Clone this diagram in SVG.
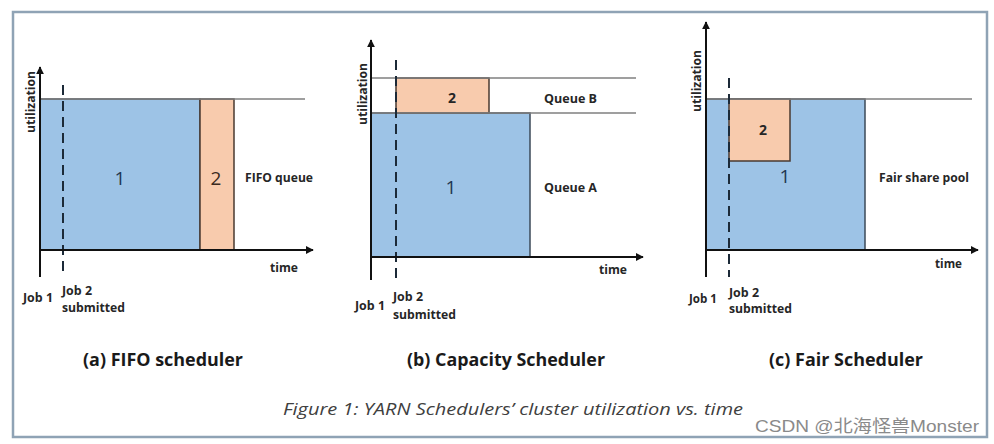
<svg xmlns="http://www.w3.org/2000/svg" width="994" height="444" viewBox="0 0 994 444">
<defs>
<marker id="arr" viewBox="0 0 10 10" refX="9" refY="5" markerWidth="4" markerHeight="4" orient="auto" markerUnits="strokeWidth">
<path d="M0,0 L10,5 L0,10 z" fill="#111"/>
</marker>
</defs>
<style>
.axis{stroke:#111;stroke-width:2;fill:none}
.lim{stroke:#7f7f7f;stroke-width:1.5;fill:none}
.dash{stroke:#1c2a38;stroke-width:2;stroke-dasharray:10 6;fill:none}
.blue{fill:#9dc3e6;stroke:#3d4a58;stroke-width:1.5}
.org{fill:#f8cbad;stroke:#4a3a30;stroke-width:1.5}
.lbl{font-family:"Open Sans","Liberation Sans",sans-serif;font-weight:bold;font-size:12px;fill:#262626}
.big{font-family:"Open Sans","Liberation Sans",sans-serif;font-size:19px;fill:#1f3550}
.cap{font-family:"Open Sans","Liberation Sans",sans-serif;font-weight:bold;font-size:18px;fill:#1a1a1a}
</style>
<rect x="13" y="12" width="974" height="425" fill="#fff" stroke="#8fa3b5" stroke-width="2.5"/>

<g id="panel-a">
<rect class="blue" x="40" y="99" width="160" height="151"/>
<rect class="org" x="200" y="99" width="34" height="151"/>
<line class="lim" x1="40" y1="99" x2="305" y2="99"/>
<line class="dash" x1="63" y1="85" x2="63" y2="277"/>
<text class="big" x="120" y="185" text-anchor="middle">1</text>
<text class="big" x="216" y="185" text-anchor="middle" fill="#3b2a20" style="fill:#3b2a20">2</text>
<text class="lbl" x="245" y="182" textLength="68" lengthAdjust="spacingAndGlyphs">FIFO queue</text>
<text class="lbl" x="270" y="272" textLength="28" lengthAdjust="spacingAndGlyphs">time</text>
<text class="lbl" x="23" y="302" textLength="30" lengthAdjust="spacingAndGlyphs">Job 1</text>
<text class="lbl" x="62" y="295" textLength="30" lengthAdjust="spacingAndGlyphs">Job 2</text>
<text class="lbl" x="62" y="312" textLength="63" lengthAdjust="spacingAndGlyphs">submitted</text>
<text class="lbl" transform="translate(35,102) rotate(-90)" text-anchor="middle" textLength="62" lengthAdjust="spacingAndGlyphs">utilization</text>
<line class="axis" x1="40" y1="277" x2="40" y2="67" marker-end="url(#arr)"/>
<line class="axis" x1="40" y1="250" x2="313" y2="250" marker-end="url(#arr)"/>
</g>

<g id="panel-b">
<rect class="blue" x="371" y="113" width="159" height="144"/>
<rect class="org" x="396" y="78" width="93" height="35"/>
<line class="lim" x1="371" y1="78" x2="636" y2="78"/>
<line class="lim" x1="371" y1="113" x2="636" y2="113"/>
<line class="dash" x1="396" y1="60" x2="396" y2="280"/>
<text class="big" x="451" y="194" text-anchor="middle">1</text>
<text class="lbl" x="452" y="103" text-anchor="middle" style="font-size:14px">2</text>
<text class="lbl" x="544" y="103" textLength="53" lengthAdjust="spacingAndGlyphs">Queue B</text>
<text class="lbl" x="544" y="192" textLength="53" lengthAdjust="spacingAndGlyphs">Queue A</text>
<text class="lbl" x="599" y="274" textLength="28" lengthAdjust="spacingAndGlyphs">time</text>
<text class="lbl" x="355" y="310" textLength="30" lengthAdjust="spacingAndGlyphs">Job 1</text>
<text class="lbl" x="393" y="301" textLength="30" lengthAdjust="spacingAndGlyphs">Job 2</text>
<text class="lbl" x="393" y="319" textLength="63" lengthAdjust="spacingAndGlyphs">submitted</text>
<text class="lbl" transform="translate(367,94) rotate(-90)" text-anchor="middle" textLength="62" lengthAdjust="spacingAndGlyphs">utilization</text>
<line class="axis" x1="371" y1="280" x2="371" y2="40" marker-end="url(#arr)"/>
<line class="axis" x1="371" y1="257" x2="643" y2="257" marker-end="url(#arr)"/>
</g>

<g id="panel-c">
<rect class="blue" x="706" y="99" width="159" height="151"/>
<rect class="org" x="729" y="99" width="61" height="62"/>
<line class="lim" x1="706" y1="99" x2="972" y2="99"/>
<line class="dash" x1="729" y1="78" x2="729" y2="277"/>
<text class="big" x="785" y="183" text-anchor="middle">1</text>
<text class="lbl" x="763" y="135" text-anchor="middle" style="font-size:14px">2</text>
<text class="lbl" x="879" y="182" textLength="90" lengthAdjust="spacingAndGlyphs">Fair share pool</text>
<text class="lbl" x="935" y="268" textLength="27" lengthAdjust="spacingAndGlyphs">time</text>
<text class="lbl" x="689" y="303" textLength="28" lengthAdjust="spacingAndGlyphs">Job 1</text>
<text class="lbl" x="729" y="297" textLength="30" lengthAdjust="spacingAndGlyphs">Job 2</text>
<text class="lbl" x="729" y="313" textLength="63" lengthAdjust="spacingAndGlyphs">submitted</text>
<text class="lbl" transform="translate(701,81) rotate(-90)" text-anchor="middle" textLength="62" lengthAdjust="spacingAndGlyphs">utilization</text>
<line class="axis" x1="706" y1="277" x2="706" y2="22" marker-end="url(#arr)"/>
<line class="axis" x1="706" y1="250" x2="978" y2="250" marker-end="url(#arr)"/>
</g>

<g id="captions">
<text class="cap" x="83" y="366" textLength="160" lengthAdjust="spacingAndGlyphs">(a) FIFO scheduler</text>
<text class="cap" x="407" y="366" textLength="198" lengthAdjust="spacingAndGlyphs">(b) Capacity Scheduler</text>
<text class="cap" x="769" y="366" textLength="154" lengthAdjust="spacingAndGlyphs">(c) Fair Scheduler</text>
<text x="283" y="415" font-family="'Open Sans','Liberation Sans',sans-serif" font-style="italic" font-size="17" fill="#404040" textLength="460" lengthAdjust="spacingAndGlyphs">Figure 1: YARN Schedulers’ cluster utilization vs. time</text>
<text x="755" y="432" font-family="'Liberation Sans','Noto Sans CJK SC',sans-serif" font-size="17" fill="#8a8a8a" textLength="224" lengthAdjust="spacingAndGlyphs">CSDN @北海怪兽Monster</text>
</g>
</svg>
